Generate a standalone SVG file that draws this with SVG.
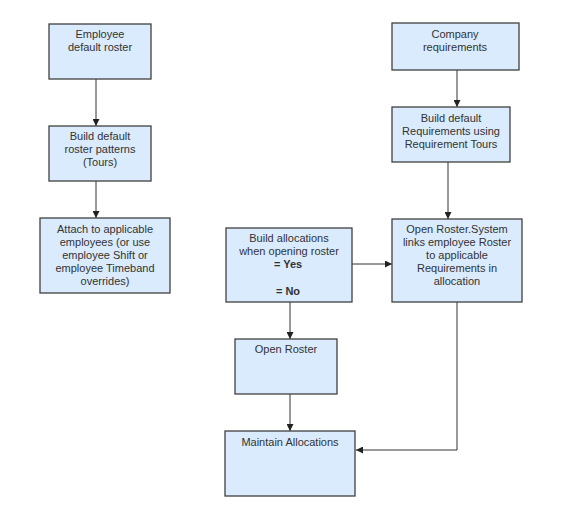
<svg xmlns="http://www.w3.org/2000/svg" width="570" height="516" viewBox="0 0 570 516">
<style>
.n rect{fill:#D9EBFD;stroke:#404040;stroke-width:1.3}
text{font-family:"Liberation Sans",Arial,sans-serif;font-size:11px;fill:#333;text-anchor:middle}
.b{font-weight:bold}
.c path{fill:none;stroke:#333;stroke-width:1}
</style>
<defs>
<marker id="a" viewBox="0 0 10 10" refX="10" refY="5" markerWidth="7" markerHeight="7" orient="auto" markerUnits="userSpaceOnUse"><path d="M0,0L10,5L0,10z" fill="#222"/></marker>
</defs>
<rect width="570" height="516" fill="#fff"/>
<g class="c">
<path d="M96,79V126" marker-end="url(#a)"/>
<path d="M96,181V218" marker-end="url(#a)"/>
<path d="M457,70V107" marker-end="url(#a)"/>
<path d="M448,162V219" marker-end="url(#a)"/>
<path d="M309,264H392" marker-end="url(#a)"/>
<path d="M290,302V339" marker-end="url(#a)"/>
<path d="M290,394V431" marker-end="url(#a)"/>
<path d="M457,302V450H356" marker-end="url(#a)"/>
</g>
<g id="employee-default-roster" class="n"><rect x="49" y="24" width="102" height="55"/><text x="100" y="38">Employee</text><text x="100" y="51">default roster</text></g>
<g id="build-roster-patterns" class="n"><rect x="49" y="126" width="102" height="55"/><text x="100" y="140">Build default</text><text x="100" y="153">roster patterns</text><text x="100" y="166">(Tours)</text></g>
<g id="attach-employees" class="n"><rect x="40" y="218" width="130" height="75"/><text x="105" y="233">Attach to applicable</text><text x="105" y="246">employees (or use</text><text x="105" y="259">employee Shift or</text><text x="105" y="272">employee Timeband</text><text x="105" y="285">overrides)</text></g>
<g id="company-requirements" class="n"><rect x="392" y="23" width="127" height="47"/><text x="455" y="38">Company</text><text x="455" y="51">requirements</text></g>
<g id="build-requirements" class="n"><rect x="392" y="107" width="118" height="55"/><text x="451" y="122">Build default</text><text x="451" y="135">Requirements using</text><text x="451" y="148">Requirement Tours</text></g>
<g id="open-roster-system" class="n"><rect x="392" y="219" width="130" height="83"/><text x="457" y="233">Open Roster.System</text><text x="457" y="246">links employee Roster</text><text x="457" y="259">to applicable</text><text x="457" y="272">Requirements in</text><text x="457" y="285">allocation</text></g>
<g id="build-allocations" class="n"><rect x="226" y="228" width="126" height="74"/><text x="289" y="242">Build allocations</text><text x="289" y="255">when opening roster</text><text x="288" y="268" class="b">= Yes</text><text x="288" y="295" class="b">= No</text></g>
<g id="open-roster" class="n"><rect x="235" y="339" width="102" height="55"/><text x="286" y="353">Open Roster</text></g>
<g id="maintain-allocations" class="n"><rect x="225" y="431" width="130" height="65"/><text x="290" y="446">Maintain Allocations</text></g>
</svg>
